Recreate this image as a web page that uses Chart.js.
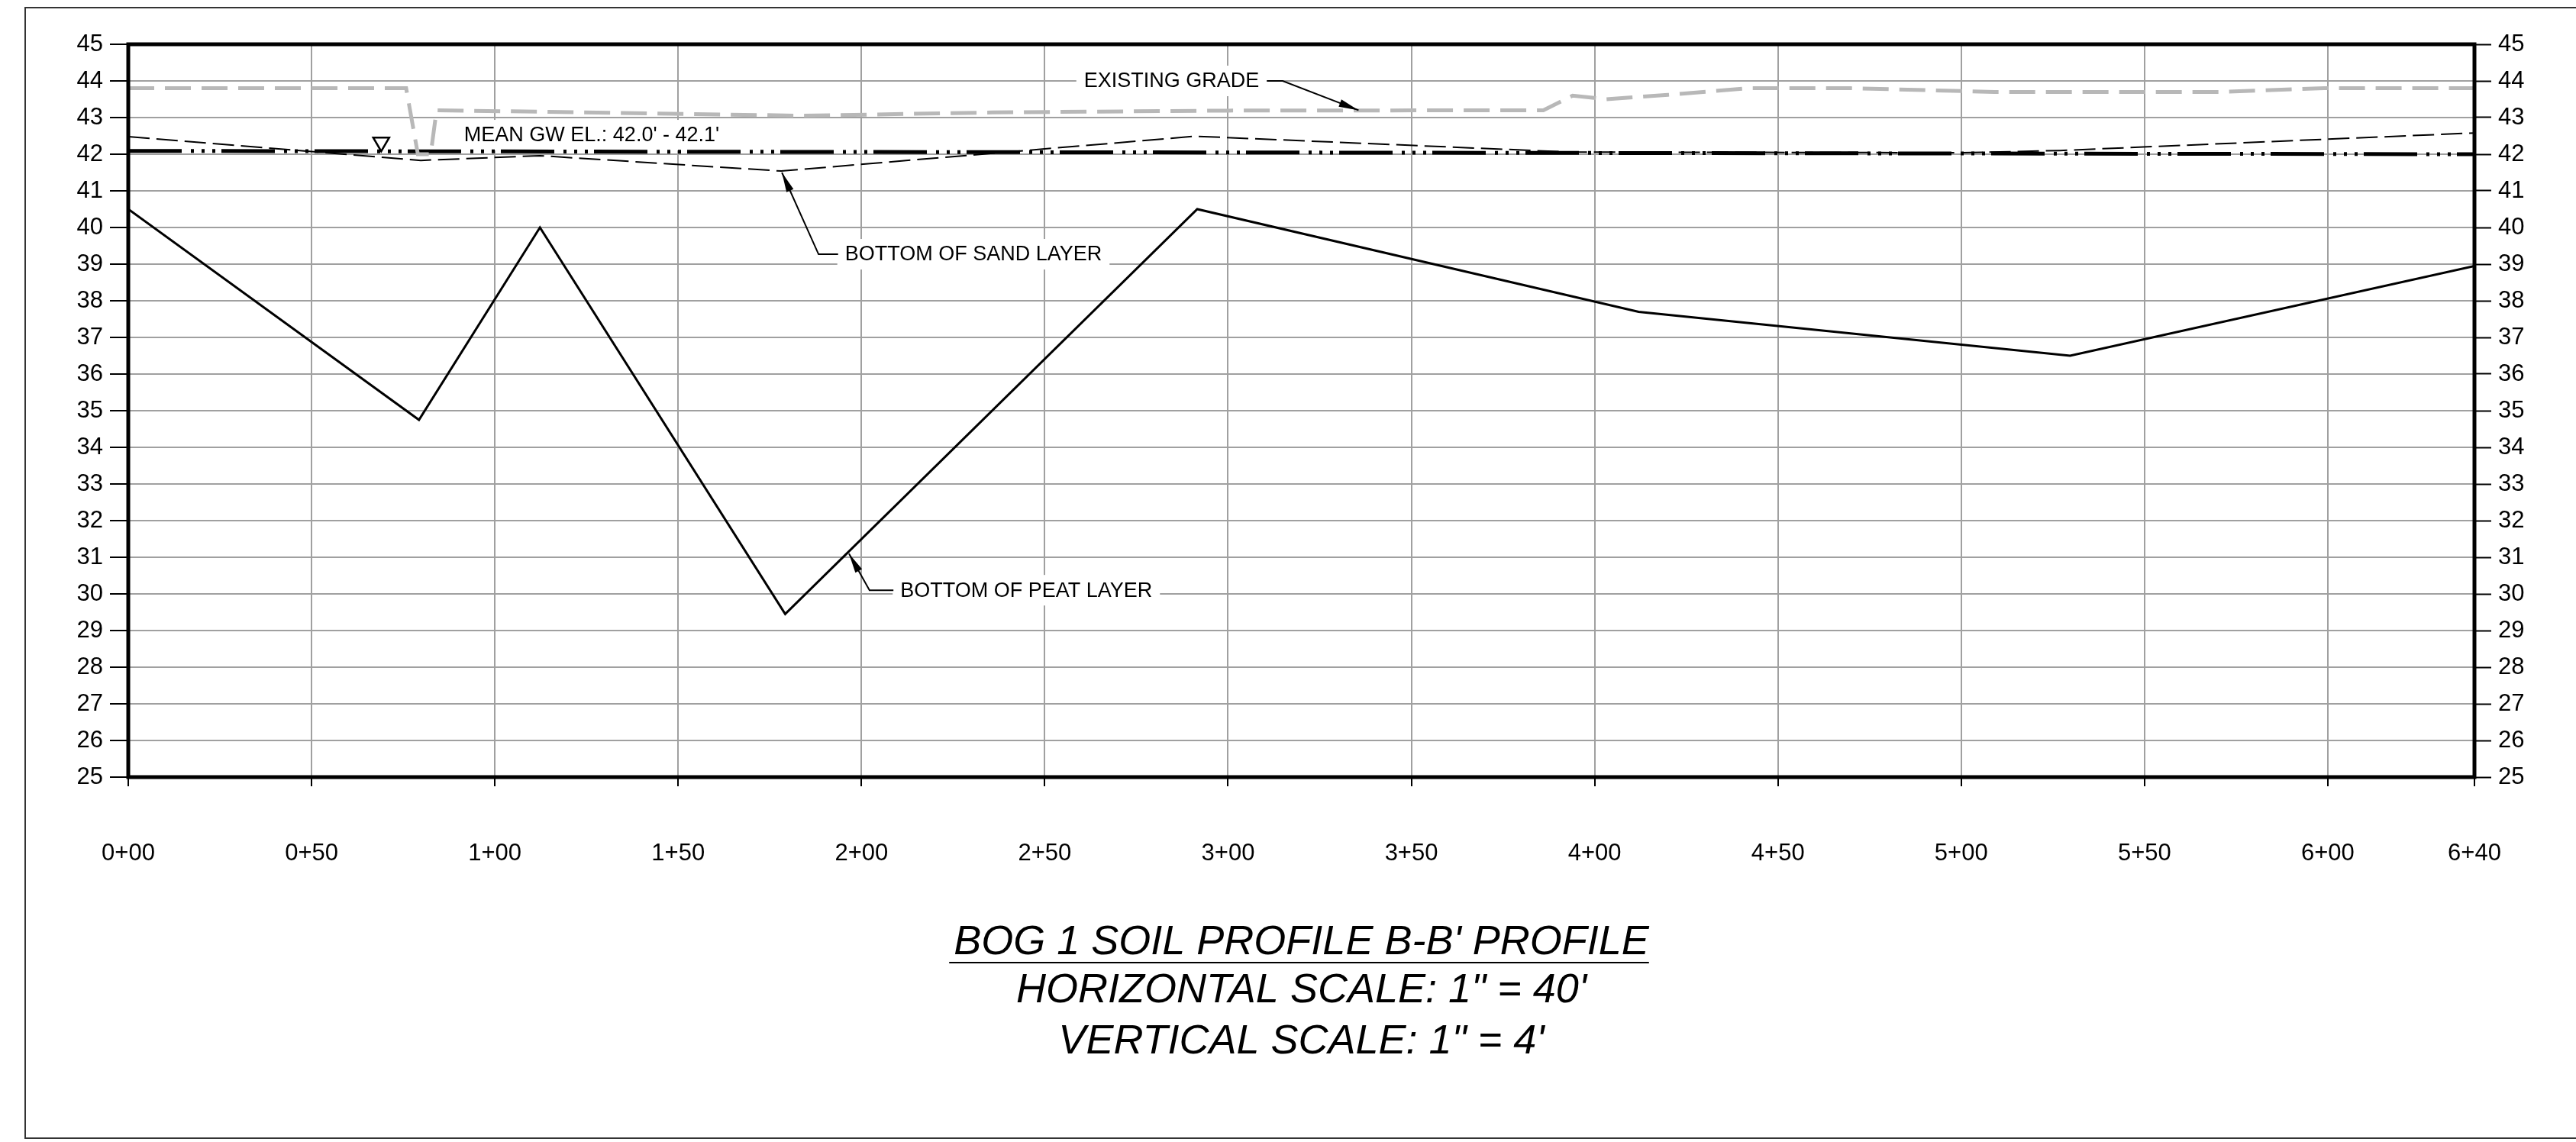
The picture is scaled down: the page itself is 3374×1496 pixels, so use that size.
<!DOCTYPE html>
<html>
<head>
<meta charset="utf-8">
<title>BOG 1 SOIL PROFILE B-B'</title>
<script src="https://cdn.jsdelivr.net/npm/chart.js@4.4.1/dist/chart.umd.min.js"></script>
<style>
  html, body { margin: 0; padding: 0; background: #fff; }
  #wrap { width: 3374px; height: 1496px; }
</style>
</head>
<body>
<div id="wrap"><canvas id="profile" width="3374" height="1496"></canvas></div>
<script>
// stations (ft along section) and tick labels
const stationTicks = [0, 50, 100, 150, 200, 250, 300, 350, 400, 450, 500, 550, 600, 640];
const stationLabels = ['0+00', '0+50', '1+00', '1+50', '2+00', '2+50', '3+00', '3+50',
                       '4+00', '4+50', '5+00', '5+50', '6+00', '6+40'];

// existing grade (light gray dashed)
const gradeStations   = [0, 75.8, 79, 82.5, 84.1, 184.5, 235.7, 300, 386, 394, 403, 420, 442, 470, 509, 571, 599, 640];
const gradeElevations = [43.8, 43.8, 42.0, 42.0, 43.2, 43.05, 43.14, 43.19, 43.2, 43.6, 43.5, 43.62, 43.8, 43.8, 43.7, 43.7, 43.8, 43.8];

// bottom of sand layer (thin black dashed)
const sandStations   = [0, 79.8, 112.2, 178.1, 291, 393, 500, 527, 640];
const sandElevations = [42.48, 41.83, 41.96, 41.54, 42.49, 42.06, 42.04, 42.1, 42.58];

// bottom of peat layer (solid black)
const peatStations   = [0, 79.3, 112.3, 179.2, 291.6, 412, 529.7, 640];
const peatElevations = [40.5, 34.75, 40.0, 29.45, 40.5, 37.7, 36.5, 38.95];

// mean ground water
const gwStations   = [0, 640];
const gwElevations = [42.09, 42.0];
const gwMarkerStation = 69;

const titleLines = ["BOG 1 SOIL PROFILE B-B' PROFILE", 'HORIZONTAL SCALE: 1" = 40\'', 'VERTICAL SCALE: 1" = 4\''];

const FONT = "'Liberation Sans', Arial, Helvetica, sans-serif";

function pairs(xs, ys) {
  return xs.map((x, i) => ({ x: x, y: ys[i] }));
}

function interp(xs, ys, x) {
  for (let i = 1; i < xs.length; i++) {
    if (x <= xs[i]) {
      const t = (x - xs[i - 1]) / (xs[i] - xs[i - 1]);
      return ys[i - 1] + t * (ys[i] - ys[i - 1]);
    }
  }
  return ys[ys.length - 1];
}

// callouts: text anchored by its left edge / vertical middle, leader elbow + arrow tip
const callouts = [
  { text: 'EXISTING GRADE', at: [260.7, 44.0], elbow: 314.9, tip: [335.6, 43.2] },
  { text: "MEAN GW EL.: 42.0' - 42.1'", at: [91.6, 42.52] },
  { text: 'BOTTOM OF SAND LAYER', at: [195.5, 39.27], elbow: 188.3, tip: [178.3, 41.5] },
  { text: 'BOTTOM OF PEAT LAYER', at: [210.6, 30.1], elbow: 202.2, tip: [196.6, 31.1] }
];

function calloutBox(chart, c) {
  const ctx = chart.ctx;
  ctx.font = '27px ' + FONT;
  const w = ctx.measureText(c.text).width;
  const x = chart.scales.x.getPixelForValue(c.at[0]);
  const y = chart.scales.y.getPixelForValue(c.at[1]);
  return { x: x, y: y, w: w };
}

function arrowHead(ctx, fx, fy, tx, ty) {
  const a = Math.atan2(ty - fy, tx - fx);
  const len = 26, hw = 5;
  ctx.beginPath();
  ctx.moveTo(tx, ty);
  ctx.lineTo(tx - len * Math.cos(a) + hw * Math.sin(a), ty - len * Math.sin(a) - hw * Math.cos(a));
  ctx.lineTo(tx - len * Math.cos(a) - hw * Math.sin(a), ty - len * Math.sin(a) + hw * Math.cos(a));
  ctx.closePath();
  ctx.fill();
}

const profileDecor = {
  id: 'profileDecor',
  beforeDatasetsDraw(chart) {
    const ctx = chart.ctx;
    ctx.save();
    ctx.fillStyle = '#fff';
    callouts.forEach(c => {
      const b = calloutBox(chart, c);
      ctx.fillRect(b.x - 10, b.y - 20, b.w + 20, 40);
    });
    ctx.restore();
  },
  afterDatasetsDraw(chart) {
    const ctx = chart.ctx;
    const area = chart.chartArea;
    const sx = chart.scales.x, sy = chart.scales.y;
    ctx.save();

    // plot frame
    ctx.strokeStyle = '#000';
    ctx.lineWidth = 5;
    ctx.strokeRect(area.left, area.top, area.right - area.left, area.bottom - area.top);

    // callout text + leaders
    ctx.fillStyle = '#000';
    ctx.strokeStyle = '#000';
    ctx.lineWidth = 2;
    ctx.textBaseline = 'middle';
    ctx.textAlign = 'left';
    callouts.forEach(c => {
      const b = calloutBox(chart, c);
      ctx.font = '27px ' + FONT;
      ctx.fillText(c.text, b.x, b.y + 1);
      if (c.tip) {
        const tx = sx.getPixelForValue(c.tip[0]);
        const ty = sy.getPixelForValue(c.tip[1]);
        const ex = sx.getPixelForValue(c.elbow);
        const startX = ex > b.x ? b.x + b.w + 10 : b.x - 9;
        ctx.beginPath();
        ctx.moveTo(startX, b.y);
        ctx.lineTo(ex, b.y);
        ctx.lineTo(tx, ty);
        ctx.stroke();
        arrowHead(ctx, ex, b.y, tx, ty);
      }
    });

    // water level symbol
    const gx = sx.getPixelForValue(gwMarkerStation);
    const gy = sy.getPixelForValue(interp(gwStations, gwElevations, gwMarkerStation));
    ctx.beginPath();
    ctx.moveTo(gx - 10.5, gy - 18);
    ctx.lineTo(gx + 10.5, gy - 18);
    ctx.lineTo(gx, gy);
    ctx.closePath();
    ctx.fillStyle = '#fff';
    ctx.fill();
    ctx.lineWidth = 2.5;
    ctx.stroke();
    ctx.restore();
  },
  afterDraw(chart) {
    const ctx = chart.ctx;
    const area = chart.chartArea;
    const cx = (area.left + area.right) / 2;
    ctx.save();

    // sheet border
    ctx.strokeStyle = '#333';
    ctx.lineWidth = 2;
    ctx.beginPath();
    ctx.moveTo(chart.width, 10);
    ctx.lineTo(33, 10);
    ctx.lineTo(33, 1491);
    ctx.lineTo(chart.width, 1491);
    ctx.stroke();

    // title block
    ctx.fillStyle = '#000';
    ctx.textAlign = 'center';
    ctx.textBaseline = 'alphabetic';
    ctx.font = 'italic 54px ' + FONT;
    const base = [area.bottom + 232, area.bottom + 295, area.bottom + 362];
    titleLines.forEach((t, i) => ctx.fillText(t, cx, base[i]));
    const w = ctx.measureText(titleLines[0]).width;
    ctx.strokeStyle = '#000';
    ctx.lineWidth = 2;
    ctx.beginPath();
    ctx.moveTo(cx - w / 2 - 6, area.bottom + 243);
    ctx.lineTo(cx + w / 2, area.bottom + 243);
    ctx.stroke();
    ctx.restore();
  }
};

const yTicks = { stepSize: 1, color: '#000', font: { family: FONT, size: 31 }, padding: 9 };

const ctx = document.getElementById('profile').getContext('2d');
new Chart(ctx, {
  type: 'line',
  data: {
    datasets: [
      {
        label: 'Existing Grade',
        data: pairs(gradeStations, gradeElevations),
        borderColor: '#b8b8b8',
        borderWidth: 5,
        borderDash: [34, 14],
        pointRadius: 0,
        tension: 0
      },
      {
        label: 'Mean GW',
        data: pairs(gwStations, gwElevations),
        borderColor: '#000',
        borderWidth: 5,
        borderDash: [70, 12, 4, 10, 4, 10, 4, 8],
        pointRadius: 0
      },
      {
        label: 'Bottom of Sand Layer',
        data: pairs(sandStations, sandElevations),
        borderColor: '#000',
        borderWidth: 2,
        borderDash: [28, 9],
        pointRadius: 0
      },
      {
        label: 'Bottom of Peat Layer',
        data: pairs(peatStations, peatElevations),
        borderColor: '#000',
        borderWidth: 3,
        pointRadius: 0
      }
    ]
  },
  options: {
    responsive: false,
    animation: false,
    devicePixelRatio: 1,
    events: [],
    layout: { padding: { top: 58, left: 0, right: 0, bottom: 0 } },
    plugins: {
      legend: { display: false },
      tooltip: { enabled: false }
    },
    scales: {
      x: {
        type: 'linear',
        min: 0,
        max: 640,
        afterBuildTicks(scale) {
          scale.ticks = stationTicks.map(v => ({ value: v }));
        },
        afterFit(scale) { scale.height = 478; },
        ticks: {
          autoSkip: false,
          maxRotation: 0,
          color: '#000',
          font: { family: FONT, size: 31 },
          padding: 70,
          callback: (v) => stationLabels[stationTicks.indexOf(v)]
        },
        grid: { color: '#a0a0a0', lineWidth: 2, tickLength: 12, tickColor: '#000', tickWidth: 2 },
        border: { display: false }
      },
      y: {
        position: 'left',
        min: 25,
        max: 45,
        afterFit(scale) { scale.width = 168; },
        ticks: yTicks,
        grid: { color: '#a0a0a0', lineWidth: 2, tickLength: 24, tickColor: '#000', tickWidth: 2 },
        border: { display: false }
      },
      y2: {
        position: 'right',
        min: 25,
        max: 45,
        afterFit(scale) { scale.width = 133; },
        ticks: yTicks,
        grid: { drawOnChartArea: false, tickLength: 22, tickColor: '#000', tickWidth: 2 },
        border: { display: false }
      }
    }
  },
  plugins: [profileDecor]
});
</script>
</body>
</html>
